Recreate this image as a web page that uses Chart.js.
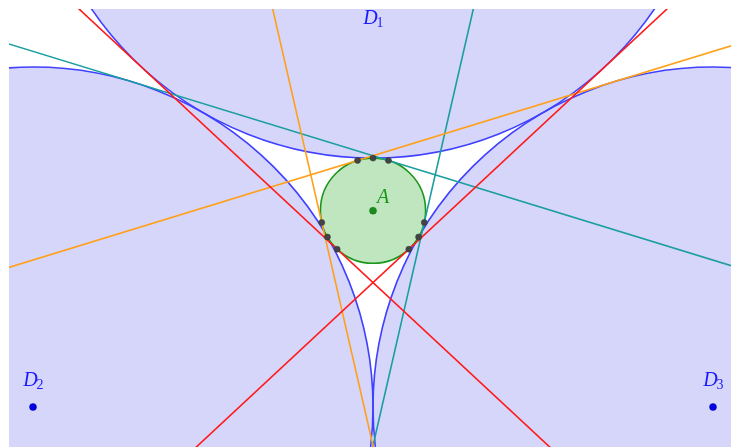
<!DOCTYPE html>
<html>
<head>
<meta charset="utf-8">
<script src="https://cdn.jsdelivr.net/npm/chart.js@4"></script>
<style>
  body { margin: 0; background: #fff; }
  #wrap { width: 731px; height: 447px; }
</style>
</head>
<body>
<div id="wrap"><canvas id="myChart" width="731" height="447"></canvas></div>
<script>
// big disks D1, D2, D3 (centre x, centre y), all with radius 1
var diskNames = ["D1", "D2", "D3"];
var diskX = [0, -1, 1];
var diskY = [1.7320508, 0, 0];
var diskR = 1;

// inner disk A
var innerX = 0;
var innerY = 0.5773503;
var innerR = 0.1547005;

// common tangents of A with each D (x1, y1, x2, y2)
var redLines = [
    [-2.1961524, -1.6777246, 2.1961524, 2.4097754],
    [-2.1961524, 2.4097754, 2.1961524, -1.6777246]
];
var orangeLines = [
    [-3.0510283, -0.1970361, 2.6850029, 1.5630615],
    [-0.8548759, 3.6068115, 0.4888505, -2.2407861]
];
var tealLines = [
    [-2.6850029, 1.5630615, 3.0510283, -0.1970361],
    [0.8548759, 3.6068115, -0.4888505, -2.2407861]
];

// touching points on A
var touchX = [-0.1053891, 0.1053891, -0.0453814, -0.1507711, 0.0453814, 0.1507711, 0, -0.1339746, 0.1339746];
var touchY = [0.4641016, 0.4641016, 0.7252448, 0.5427044, 0.7252448, 0.5427044, 0.7320508, 0.5, 0.5];

function toPts(arr) {
    var out = [];
    for (var i = 0; i < arr.length; i++) {
        out.push([{x: arr[i][0], y: arr[i][1]}, {x: arr[i][2], y: arr[i][3]}]);
    }
    return out;
}

var datasets = [];

var dots = [];
for (var i = 0; i < touchX.length; i++) dots.push({x: touchX[i], y: touchY[i]});
datasets.push({
    data: dots, showLine: false, pointRadius: 3,
    pointBackgroundColor: "#444444", pointBorderColor: "#333333", pointBorderWidth: 0.5, order: 0
});
datasets.push({
    data: [{x: innerX, y: innerY}], showLine: false, pointRadius: 3.5,
    pointBackgroundColor: "#1a8c1a", pointBorderColor: "#137013", pointBorderWidth: 0.5, order: 0
});
datasets.push({
    data: [{x: diskX[1], y: diskY[1]}, {x: diskX[2], y: diskY[2]}], showLine: false, pointRadius: 3.5,
    pointBackgroundColor: "#0000e0", pointBorderColor: "#0000c0", pointBorderWidth: 0.5, order: 0
});

function addLines(list, color) {
    var pts = toPts(list);
    for (var i = 0; i < pts.length; i++) {
        datasets.push({
            data: pts[i], showLine: true, pointRadius: 0,
            borderColor: color, borderWidth: 1.6, order: 1
        });
    }
}
addLines(redLines, "#ff1a1a");
addLines(orangeLines, "#ffa01a");
addLines(tealLines, "#1a9e9e");

var diskPlugin = {
    id: "disks",
    beforeDatasetsDraw: function (chart) {
        var ctx = chart.ctx, a = chart.chartArea;
        var sx = chart.scales.x, sy = chart.scales.y;
        ctx.save();
        ctx.beginPath();
        ctx.rect(a.left, a.top, a.right - a.left, a.bottom - a.top);
        ctx.clip();
        for (var i = 0; i < diskX.length; i++) {
            var px = sx.getPixelForValue(diskX[i]);
            var py = sy.getPixelForValue(diskY[i]);
            var pr = sx.getPixelForValue(diskX[i] + diskR) - px;
            ctx.beginPath();
            ctx.arc(px, py, pr, 0, Math.PI * 2);
            ctx.fillStyle = "rgb(214,214,251)";
            ctx.fill();
        }
        for (var j = 0; j < diskX.length; j++) {
            var qx = sx.getPixelForValue(diskX[j]);
            var qy = sy.getPixelForValue(diskY[j]);
            var qr = sx.getPixelForValue(diskX[j] + diskR) - qx;
            ctx.beginPath();
            ctx.arc(qx, qy, qr, 0, Math.PI * 2);
            ctx.strokeStyle = "#4040ff";
            ctx.lineWidth = 1.6;
            ctx.stroke();
        }
        var cx = sx.getPixelForValue(innerX);
        var cy = sy.getPixelForValue(innerY);
        var cr = sx.getPixelForValue(innerX + innerR) - cx;
        ctx.beginPath();
        ctx.arc(cx, cy, cr, 0, Math.PI * 2);
        ctx.fillStyle = "rgb(192,230,192)";
        ctx.fill();
        ctx.strokeStyle = "#1a961a";
        ctx.lineWidth = 1.6;
        ctx.stroke();
        ctx.restore();
    },
    afterDatasetsDraw: function (chart) {
        var ctx = chart.ctx;
        var sx = chart.scales.x, sy = chart.scales.y;
        function label(main, sub, x, y, color) {
            var px = sx.getPixelForValue(x), py = sy.getPixelForValue(y);
            ctx.fillStyle = color;
            ctx.textBaseline = "alphabetic";
            ctx.textAlign = "left";
            ctx.font = 'italic 20px "Liberation Serif"';
            ctx.fillText(main, px, py);
            if (sub) {
                var w = ctx.measureText(main).width;
                ctx.font = '14px "Liberation Serif"';
                ctx.fillText(sub, px + w - 1, py + 3);
            }
        }
        ctx.save();
        label("D", "1", -0.029, 1.126, "#1a1aff");
        label("D", "2", -1.029, 0.061, "#1a1aff");
        label("D", "3", 0.971, 0.061, "#1a1aff");
        label("A", "", 0.012, 0.6, "#1a961a");
        ctx.restore();
    }
};

new Chart("myChart", {
    type: "scatter",
    data: { datasets: datasets },
    options: {
        responsive: false,
        animation: false,
        events: [],
        layout: { autoPadding: false, padding: { left: 9, top: 9, right: 0, bottom: 0 } },
        plugins: { legend: { display: false }, tooltip: { enabled: false } },
        scales: {
            x: { type: "linear", min: -1.0706, max: 1.0529, display: false },
            y: { type: "linear", min: -0.1176, max: 1.1706, display: false }
        }
    },
    plugins: [diskPlugin]
});
</script>
</body>
</html>
